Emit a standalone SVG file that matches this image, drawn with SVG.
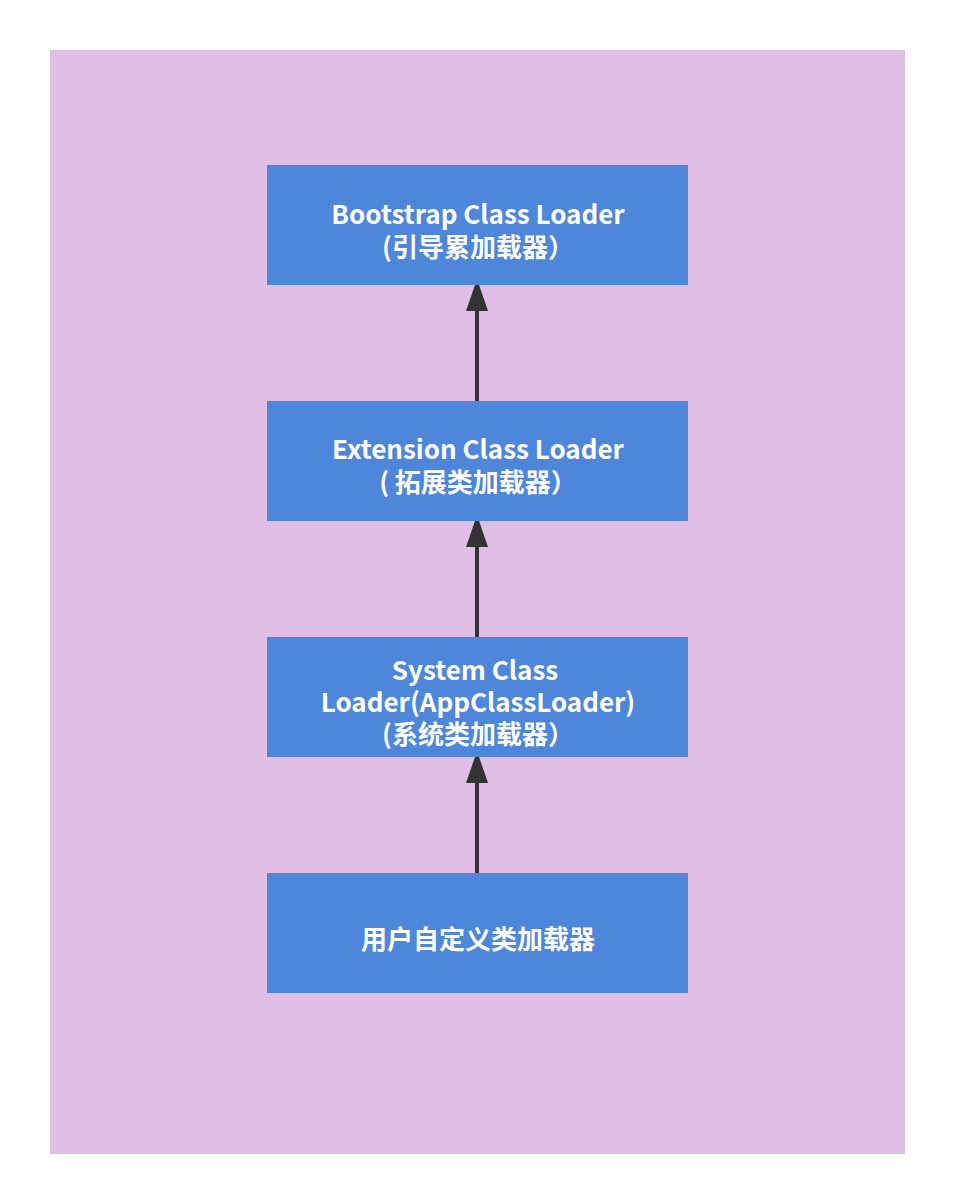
<svg xmlns="http://www.w3.org/2000/svg" width="954" height="1204" viewBox="0 0 954 1204">
<style>
.node rect{fill:#4E86D9;}
.node text{fill:#ffffff;font-family:"Noto Sans CJK SC","Microsoft YaHei",sans-serif;font-weight:bold;font-size:26px;text-anchor:middle;dominant-baseline:central;}
.edge{stroke:#333333;stroke-width:4;fill:none;marker-end:url(#arr);}
</style>
<defs>
<marker id="arr" markerUnits="userSpaceOnUse" markerWidth="32" markerHeight="22" refX="-32" refY="11" orient="auto" viewBox="-32 0 32 22">
<path d="M0,11 L-32,0 L-32,22 Z" fill="#333333"/>
</marker>
</defs>
<rect x="0" y="0" width="954" height="1204" fill="#ffffff"/>
<rect x="50" y="50" width="855" height="1104" fill="#E0BEE6"/>
<g id="connectors">
<line class="edge" x1="477" y1="401" x2="477" y2="311"/>
<line class="edge" x1="477" y1="637" x2="477" y2="547"/>
<line class="edge" x1="477" y1="873" x2="477" y2="783"/>
</g>
<g id="bootstrap" class="node">
<rect x="267" y="165" width="421" height="120"/>
<text x="478" y="212">Bootstrap Class Loader</text>
<text x="478" y="245">(引导累加载器）</text>
</g>
<g id="extension" class="node">
<rect x="267" y="401" width="421" height="120"/>
<text x="478" y="447">Extension Class Loader</text>
<text x="478" y="480">( 拓展类加载器）</text>
</g>
<g id="system" class="node">
<rect x="267" y="637" width="421" height="120"/>
<text x="475" y="668">System Class</text>
<text x="478" y="700">Loader(AppClassLoader)</text>
<text x="478" y="732">(系统类加载器）</text>
</g>
<g id="custom" class="node">
<rect x="267" y="873" width="421" height="120"/>
<text x="478" y="937">用户自定义类加载器</text>
</g>
</svg>
